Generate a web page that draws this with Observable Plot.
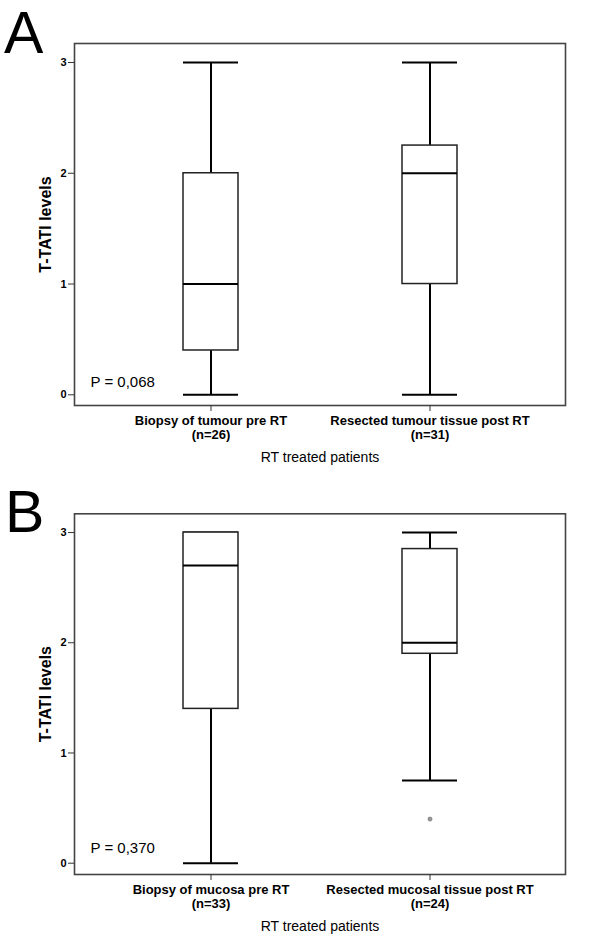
<!DOCTYPE html>
<html>
<head>
<meta charset="utf-8">
<script src="https://cdn.jsdelivr.net/npm/d3@7"></script>
<script src="https://cdn.jsdelivr.net/npm/@observablehq/plot@0.6"></script>
<style>
  html, body { margin: 0; padding: 0; background: white; }
  #wrap { position: relative; width: 600px; height: 951px; overflow: hidden; font-family: "Liberation Sans", Arial, sans-serif; }
  .panel { position: absolute; left: 0; width: 600px; }
  .letter { position: absolute; font-family: "Liberation Sans", Arial, sans-serif; font-size: 59px; line-height: 50px; height: 50px; color: black; }
  svg { display: block; }
</style>
</head>
<body>
<div id="wrap">
  <div class="panel" id="panelA" style="top:0px"></div>
  <div class="panel" id="panelB" style="top:475px"></div>
  <div class="letter" style="left:4px; top:8px">A</div>
  <div class="letter" style="left:5px; top:487px">B</div>
</div>
<script>
// ---- data ----
const yTicks = [0, 1, 2, 3];
const yTitle = "T-TATI levels";
const xTitle = "RT treated patients";

const categoriesA = ["Biopsy of tumour pre RT", "Resected tumour tissue post RT"];
const nA   = [26, 31];
const minA = [0, 0];
const q1A  = [0.4, 1];
const medA = [1, 2];
const q3A  = [2, 2.25];
const maxA = [3, 3];
const outliersA = [];
const pA = "P = 0,068";

const categoriesB = ["Biopsy of mucosa pre RT", "Resected mucosal tissue post RT"];
const nB   = [33, 24];
const minB = [0, 0.75];
const q1B  = [1.4, 1.9];
const medB = [2.7, 2];
const q3B  = [3, 2.85];
const maxB = [3, 3];
const outliersB = [{cat: "Resected mucosal tissue post RT", value: 0.4}];
const pB = "P = 0,370";

function buildPanel({cats, n, mins, q1s, meds, q3s, maxs, outliers, pText, height, marginTop, marginBottom, yDomain, pDy}) {
  const rows = cats.map((c, i) => ({cat: c, n: n[i], min: mins[i], q1: q1s[i], med: meds[i], q3: q3s[i], max: maxs[i]}));
  const nByCat = new Map(rows.map(r => [r.cat, r.n]));
  return Plot.plot({
    width: 600,
    height,
    marginLeft: 74,
    marginRight: 35,
    marginTop,
    marginBottom,
    style: {fontFamily: "'Liberation Sans', Arial, sans-serif", fontSize: "11px", color: "black", background: "white", overflow: "visible"},
    x: {type: "band", domain: cats, paddingInner: 0.75, paddingOuter: 0.491, axis: null},
    y: {domain: yDomain, axis: null},
    marks: [
      Plot.frame({stroke: "#444", strokeWidth: 1.6}),
      Plot.axisY({ticks: yTicks, tickSize: 6, tickPadding: 2, fontWeight: "bold", fontSize: 11, label: null, stroke: "#333", tickFormat: d => String(d)}),
      Plot.axisX({tickSize: 6, tickPadding: 4, fontWeight: "bold", fontSize: 13, label: null, stroke: "#333",
                  tickFormat: d => `${d}\n(n=${nByCat.get(d)})`, lineHeight: 1.05}),
      // whiskers
      Plot.ruleX(rows, {x: "cat", y1: "min", y2: "q1", stroke: "black", strokeWidth: 2}),
      Plot.ruleX(rows, {x: "cat", y1: "q3", y2: "max", stroke: "black", strokeWidth: 2}),
      // caps
      Plot.tickY(rows, {x: "cat", y: "min", stroke: "black", strokeWidth: 2}),
      Plot.tickY(rows, {x: "cat", y: "max", stroke: "black", strokeWidth: 2}),
      // boxes
      Plot.barY(rows, {x: "cat", y1: "q1", y2: "q3", fill: "white", stroke: "#222", strokeWidth: 1.5}),
      // medians
      Plot.tickY(rows, {x: "cat", y: "med", stroke: "black", strokeWidth: 2}),
      // outliers
      Plot.dot(outliers, {x: "cat", y: "value", r: 2, fill: "#999", stroke: "#777", strokeWidth: 0.8}),
      // p value
      Plot.text([pText], {frameAnchor: "bottom-left", textAnchor: "start", lineAnchor: "middle", dx: 16, dy: pDy, fontSize: 15}),
      // axis titles
      Plot.text([yTitle], {frameAnchor: "left", rotate: -90, textAnchor: "middle", lineAnchor: "middle", dx: -29, fontSize: 16, fontWeight: "bold"}),
      Plot.text([xTitle], {frameAnchor: "bottom", textAnchor: "middle", lineAnchor: "middle", dy: 52, fontSize: 14})
    ]
  });
}

document.getElementById("panelA").appendChild(buildPanel({
  cats: categoriesA, n: nA, mins: minA, q1s: q1A, meds: medA, q3s: q3A, maxs: maxA, outliers: outliersA,
  pText: pA, height: 475, marginTop: 43, marginBottom: 70, yDomain: [-0.0966, 3.1715], pDy: -23.3
}));
document.getElementById("panelB").appendChild(buildPanel({
  cats: categoriesB, n: nB, mins: minB, q1s: q1B, meds: medB, q3s: q3B, maxs: maxB, outliers: outliersB,
  pText: pB, height: 476, marginTop: 38.3, marginBottom: 77, yDomain: [-0.1025, 3.17], pDy: -26.3
}));
</script>
</body>
</html>
